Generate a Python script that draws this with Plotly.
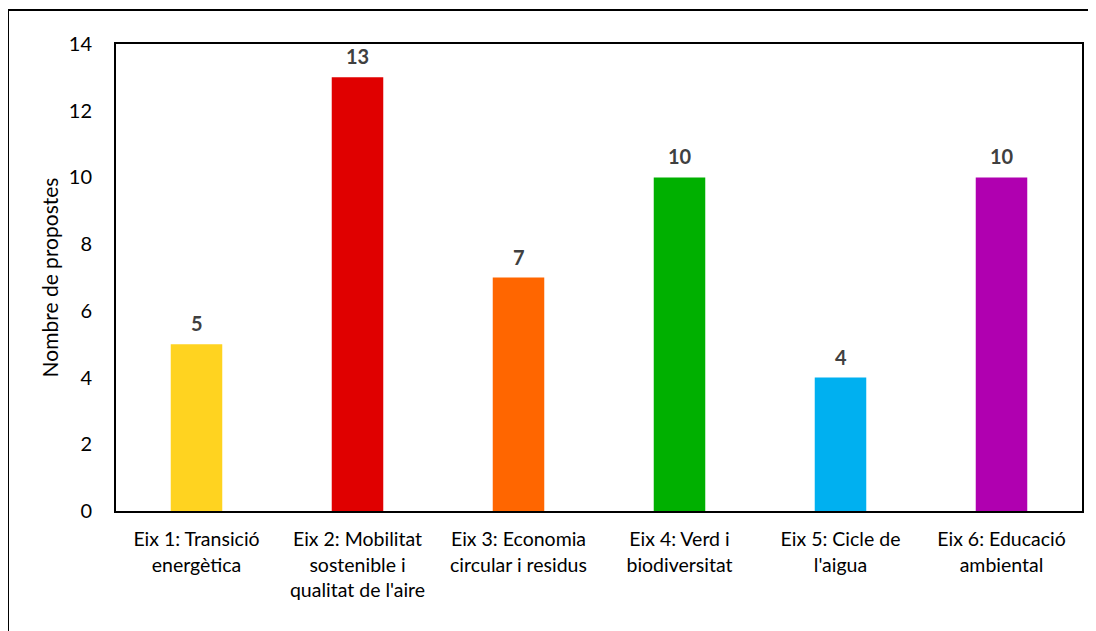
import plotly.graph_objects as go

# ── Data ─────────────────────────────────────────────────────────────
CATEGORIES = [
    "Eix 1: Transició<br>energètica",
    "Eix 2: Mobilitat<br>sostenible i<br>qualitat de l'aire",
    "Eix 3: Economia<br>circular i residus",
    "Eix 4: Verd i<br>biodiversitat",
    "Eix 5: Cicle de<br>l'aigua",
    "Eix 6: Educació<br>ambiental",
]
PROPOSTES = [5, 13, 7, 10, 4, 10]
COLORS = ["#FFD320", "#E00000", "#FF6600", "#00B000", "#00B0F0", "#B000B0"]

FONT = "Lato, 'Open Sans', sans-serif"

fig = go.Figure(go.Bar(
    x=CATEGORIES,
    y=PROPOSTES,
    marker=dict(color=COLORS, line=dict(width=0)),
    hoverinfo="skip",
))

# value labels sit a little above each bar
for cat, val in zip(CATEGORIES, PROPOSTES):
    fig.add_annotation(
        x=cat, y=val, text=f"<b>{val}</b>", showarrow=False,
        yanchor="bottom", yshift=7,
        font=dict(family=FONT, size=20, color="#404040"),
    )

# page body has an 8px margin, so the figure is sized to fit inside the window
fig.update_layout(
    width=1088,
    height=623,
    margin=dict(l=108, r=14, t=36, b=120),
    paper_bgcolor="white",
    plot_bgcolor="white",
    bargap=0.68,
    showlegend=False,
    font=dict(family=FONT, size=19.5, color="#000000"),
    xaxis=dict(
        showline=True, linecolor="#000000", linewidth=2, mirror=True,
        ticks="", showgrid=False, tickfont=dict(size=19.5),
        ticklabelstandoff=10,
    ),
    yaxis=dict(
        range=[0, 14], dtick=2,
        showline=True, linecolor="#000000", linewidth=2, mirror=True,
        ticks="", showgrid=False, zeroline=False,
        tickfont=dict(size=20), ticklabelstandoff=18,
        title=dict(text="Nombre de propostes", font=dict(size=21), standoff=4),
    ),
    # outer chart-area frame (cropped at right and bottom)
    shapes=[dict(
        type="rect", xref="paper", yref="paper",
        x0=-0.1118, x1=1.2, y0=-0.5, y1=1.0728,
        line=dict(color="#000000", width=2), fillcolor="rgba(0,0,0,0)",
        layer="below",
    )],
)

fig.write_html("out.html")
